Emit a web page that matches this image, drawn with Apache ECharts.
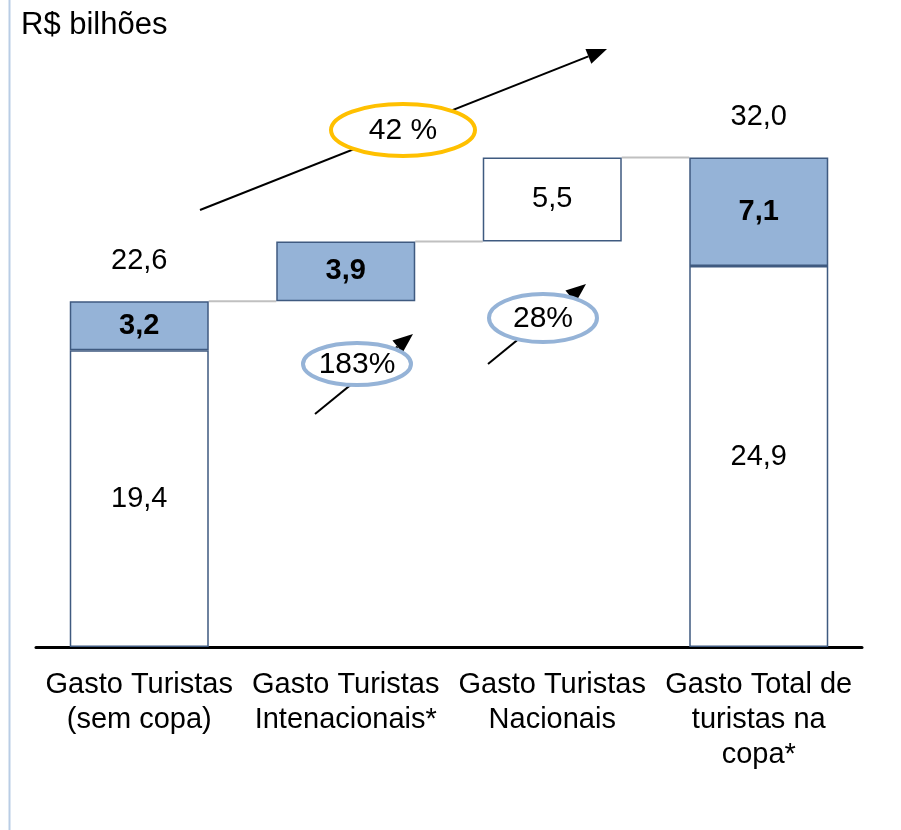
<!DOCTYPE html>
<html>
<head>
<meta charset="utf-8">
<script src="https://cdn.jsdelivr.net/npm/echarts@6/dist/echarts.min.js"></script>
<style>
html, body { margin: 0; padding: 0; background: #fff; }
#main { width: 901px; height: 830px; }
</style>
</head>
<body>
<div id="main"></div>
<script>
var categories = ['Gasto Turistas\n(sem copa)', 'Gasto Turistas\nIntenacionais*', 'Gasto Turistas\nNacionais', 'Gasto Total de\nturistas na\ncopa*'];
var offsets = ['-', 22.6, 26.5, '-'];      // invisible base of the floating bars
var whiteVals = [19.4, '-', 5.5, 24.9];
var blueVals = [3.2, 3.9, '-', 7.1];
var totals = [22.6, '-', '-', 32.0];
var steps = [[0, 22.6], [1, 26.5], [2, 32.0]];   // connector levels between bars
var growth = ['42 %', '183%', '28%'];

var FONT = '"Liberation Sans", Arial, sans-serif';
var BORDER = '#3f5a80';
var BLUE = '#95b3d7';

function fmt(v) {
    return v.toFixed(1).replace('.', ',');
}

// arrow line + head as graphic elements
function arrow(x1, y1, x2, y2) {
    var a = Math.atan2(y2 - y1, x2 - x1);
    var len = 20, w = 8;
    var bx = x2 - len * Math.cos(a), by = y2 - len * Math.sin(a);
    var px = -Math.sin(a) * w, py = Math.cos(a) * w;
    return [
        { type: 'line', shape: { x1: x1, y1: y1, x2: bx, y2: by }, style: { stroke: '#000', lineWidth: 2 }, z: 10 },
        { type: 'polygon', shape: { points: [[x2, y2], [bx + px, by + py], [bx - px, by - py]] }, style: { fill: '#000' }, z: 10 }
    ];
}

function badge(cx, cy, rx, ry, color, text) {
    return [
        { type: 'ellipse', shape: { cx: cx, cy: cy, rx: rx, ry: ry }, style: { fill: '#fff', stroke: color, lineWidth: 4 }, z: 11 },
        { type: 'text', x: cx, y: cy + 1, style: { text: text, font: '30px ' + FONT, fill: '#000', align: 'center', verticalAlign: 'middle' }, z: 12 }
    ];
}

var graphics = [
    { type: 'line', shape: { x1: 9.5, y1: 0, x2: 9.5, y2: 830 }, style: { stroke: '#b9cde5', lineWidth: 2 } }
];
graphics = graphics
    .concat(arrow(200, 210, 607, 49))
    .concat(badge(403, 130, 72, 26, '#ffc000', growth[0]))
    .concat(arrow(315, 414, 413, 334))
    .concat(badge(357, 364, 54, 21, BLUE, growth[1]))
    .concat(arrow(488, 364, 586, 284))
    .concat(badge(543, 318, 54, 24, BLUE, growth[2]));

var myChart = echarts.init(document.getElementById('main'));
var option = {
    animation: false,
    textStyle: { fontFamily: FONT },
    title: {
        text: 'R$ bilhões',
        left: 16,
        top: 5,
        textStyle: { fontSize: 31, fontWeight: 'normal', color: '#000', fontFamily: FONT }
    },
    grid: { left: 36, right: 39, top: 35, bottom: 183, containLabel: false },
    xAxis: {
        type: 'category',
        data: categories,
        axisLine: { lineStyle: { color: '#000', width: 3 } },
        axisTick: { show: false },
        axisLabel: { color: '#000', fontSize: 29, lineHeight: 35, margin: 20, fontFamily: FONT, interval: 0 }
    },
    yAxis: {
        type: 'value',
        min: 0,
        max: 40,
        show: false,
        splitLine: { show: false }
    },
    graphic: graphics,
    series: [
        {
            name: 'base',
            type: 'bar',
            stack: 'w',
            barWidth: 139,
            itemStyle: { color: 'transparent' },
            emphasis: { disabled: true },
            data: offsets
        },
        {
            name: 'white',
            type: 'bar',
            stack: 'w',
            barWidth: 139,
            itemStyle: { color: '#fff', borderColor: BORDER, borderWidth: 1.5 },
            label: {
                show: true, position: 'inside', color: '#000', fontSize: 29, fontFamily: FONT,
                formatter: function (p) { return fmt(p.value); }
            },
            data: whiteVals
        },
        {
            name: 'blue',
            type: 'bar',
            stack: 'w',
            barWidth: 139,
            itemStyle: { color: BLUE, borderColor: BORDER, borderWidth: 1.5 },
            label: {
                show: true, position: 'inside', color: '#000', fontSize: 29, fontWeight: 'bold', fontFamily: FONT,
                formatter: function (p) { return fmt(p.value); }
            },
            data: blueVals
        },
        {
            name: 'total',
            type: 'scatter',
            symbolSize: 0,
            itemStyle: { opacity: 1 },
            label: {
                show: true, position: 'top', distance: 26, color: '#000', opacity: 1, fontSize: 29, fontFamily: FONT,
                formatter: function (p) { return fmt(p.value); }
            },
            data: totals
        },
        {
            name: 'connectors',
            type: 'custom',
            silent: true,
            z: 1,
            renderItem: function (params, api) {
                var i = api.value(0);
                var v = api.value(1);
                var p1 = api.coord([i, v]);
                var p2 = api.coord([i + 1, v]);
                return {
                    type: 'line',
                    shape: { x1: p1[0] + 69.5, y1: p1[1], x2: p2[0] - 69.5, y2: p2[1] },
                    style: { stroke: '#c0c0c0', lineWidth: 2 }
                };
            },
            data: steps
        }
    ]
};
myChart.setOption(option);
</script>
</body>
</html>
